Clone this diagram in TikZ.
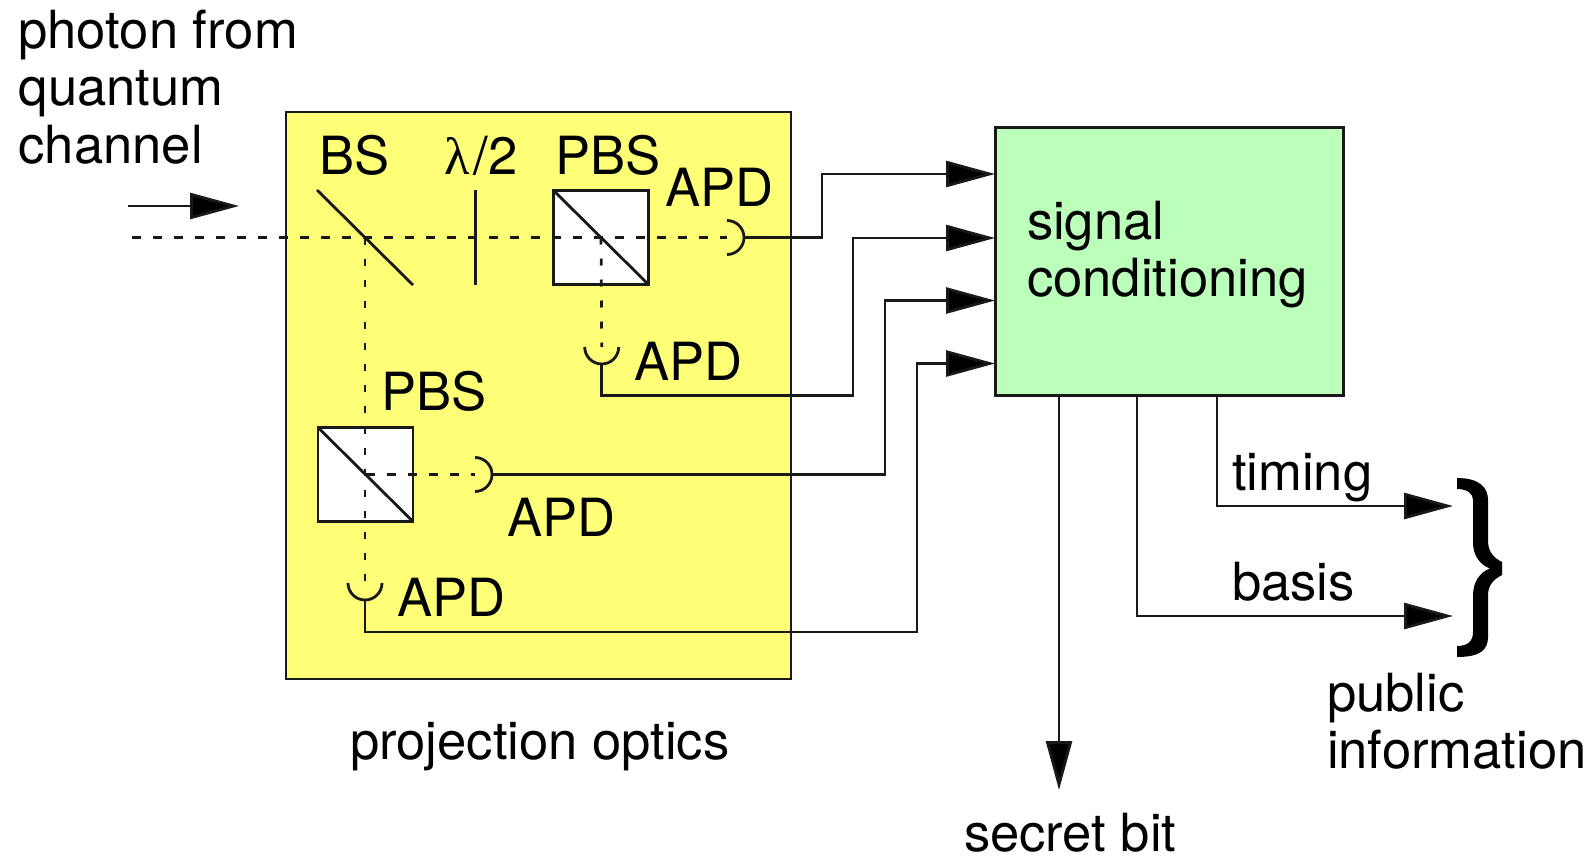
\documentclass[tikz,border=0pt]{standalone}
\usepackage{fontspec}
\setmainfont{TeX Gyre Heros}
\newfontfamily\symbfont{Liberation Serif}
\usetikzlibrary{arrows.meta,calc}
\definecolor{optyellow}{HTML}{FFFF77}
\definecolor{siggreen}{HTML}{BBFFBB}
\tikzset{
  lbl/.style={anchor=base west,inner sep=0pt,outer sep=0pt,font=\fontsize{26.3}{28}\selectfont},
  ln/.style={line width=1.4pt,black!90},
  box/.style={draw=black!90,line width=1.25pt,inner sep=0pt,outer sep=0pt},
  cube/.style={box,fill=white,minimum width=47.5pt,minimum height=47pt},
  beamh/.style={line width=1.35pt,black!90,dash pattern=on 4.5pt off 6pt},
  beamv/.style={line width=1.35pt,black!90,dash pattern=on 3.5pt off 7pt},
  arr/.style={ln,-{Triangle[length=24.5pt,width=13pt,fill=black]}},
}
\begin{document}
\begin{tikzpicture}[x=0.5pt,y=-0.5pt]
\useasboundingbox (0,0) rectangle (1594,856);
% boxes
\node[box,fill=optyellow,minimum width=252.5pt,minimum height=283.5pt,anchor=north west] (optics) at (286,112) {};
\node[box,fill=siggreen,minimum width=174pt,minimum height=134pt,anchor=north west] (sig) at (995.5,127.5) {};
\node[cube] (pbsa) at (601,237.5) {};
\node[cube] (pbsb) at (365.5,474.5) {};
% named points
\coordinate (start) at (132,237.5);
\coordinate (bsa) at (317,190);
\coordinate (bsb) at (413,285);
\coordinate (bsc) at (365,237.5);
\coordinate (wpa) at (475.5,190);
\coordinate (wpb) at (475.5,285);
\coordinate (deta) at (727,237.5);
\coordinate (detb) at (601.7,347);
\coordinate (detc) at (475,474.5);
\coordinate (detd) at (365,583);
\coordinate (ina) at (995,174);
\coordinate (inb) at (995,238);
\coordinate (inc) at (995,300.5);
\coordinate (ind) at (995,363.5);
\coordinate (outa) at (1059,395);
\coordinate (outb) at (1137,395);
\coordinate (outc) at (1217,395);
\coordinate (enda) at (1059,790);
\coordinate (endb) at (1453,616);
\coordinate (endc) at (1453,506);
\coordinate (inpa) at (128,206);
\coordinate (inpb) at (239,206);
% beams
\draw[beamh] (start) -- (deta);
\draw[beamv] (bsc) -- (detd);
\draw[beamv] (pbsa.center) -- (detb);
\draw[beamh] (pbsb.center) -- (detc);
% optics
\draw[ln] (bsa) -- (bsb);
\draw[ln] (wpa) -- (wpb);
\draw[ln] (pbsa.north west) -- (pbsa.south east);
\draw[ln] (pbsb.north west) -- (pbsb.south east);
% detectors
\draw[ln] ($(deta)+(0,-17)$) arc[start angle=90,end angle=-90,radius=8.5pt];
\draw[ln] ($(detb)+(-17,0)$) arc[start angle=180,end angle=360,radius=8.5pt];
\draw[ln] ($(detc)+(0,-17)$) arc[start angle=90,end angle=-90,radius=8.5pt];
\draw[ln] ($(detd)+(-17,0)$) arc[start angle=180,end angle=360,radius=8.5pt];
% connectors
\draw[arr] ($(deta)+(17,0)$) -- (822,237.5) |- (ina);
\draw[arr] ($(detb)+(0,17)$) |- (853,395.5) |- (inb);
\draw[arr] ($(detc)+(17,0)$) -- (885,474.5) |- (inc);
\draw[arr] ($(detd)+(0,17)$) |- (917,632) |- (ind);
\draw[arr] (outa) -- (enda);
\draw[arr] (outb) |- (endb);
\draw[arr] (outc) |- (endc);
\draw[arr] (inpa) -- (inpb);
% brace
\fill[black] (1457,478) .. controls (1480,478) and (1488,488) .. (1488,500)
  -- (1488,541) .. controls (1488,552) and (1494,558) .. (1502,562)
  -- (1502,575) .. controls (1494,579) and (1488,585) .. (1488,595)
  -- (1488,637) .. controls (1488,650) and (1480,657) .. (1457,657)
  -- (1457,646) .. controls (1468,646) and (1473,641) .. (1473,632)
  -- (1473,595) .. controls (1473,582) and (1480,572) .. (1490,568.5)
  .. controls (1480,565) and (1473,555) .. (1473,543)
  -- (1473,500) .. controls (1473,494) and (1468,489) .. (1457,489) -- cycle;
% labels
\node[lbl] (t1) at (18.5,48.5) {photon from};
\node[lbl] (t2) at (18.5,105.5) {quantum};
\node[lbl] (t3) at (18.5,163.5) {channel};
\node[lbl] (bs) at (319,174) {BS};
\node[lbl] (hw) at (444,174) {{\symbfont λ}\kern2pt/2};
\node[lbl] (pa) at (555,174) {PBS};
\node[lbl] (aa) at (665,206) {APD};
\node[lbl] (ab) at (634,380.5) {APD};
\node[lbl] (pb) at (381,410.5) {PBS};
\node[lbl] (ac) at (507.5,536) {APD};
\node[lbl] (ad) at (397,616.5) {APD};
\node[lbl] (po) at (350,759) {projection optics};
\node[lbl] (s1) at (1027,239) {signal};
\node[lbl] (s2) at (1027,296.5) {conditioning};
\node[lbl] (ti) at (1232,490.5) {timing};
\node[lbl] (ba) at (1232,600) {basis};
\node[lbl] (p1) at (1327,711) {public};
\node[lbl] (p2) at (1327,768.5) {information};
\node[lbl] (sb) at (964,851) {secret bit};
\end{tikzpicture}
\end{document}
